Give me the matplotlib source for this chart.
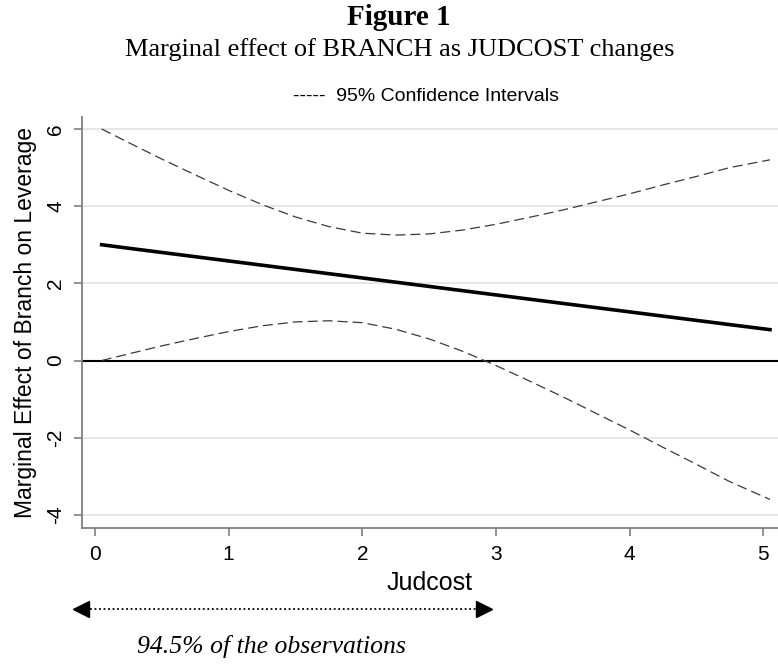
import numpy as np
import matplotlib
matplotlib.use('Agg')
from matplotlib import pyplot as plt
from matplotlib.lines import Line2D

# judcost grid and the estimated marginal effect with its 95% band
judcost = [0.05, 0.25, 0.5, 0.75, 1.0, 1.25, 1.5, 1.75, 2.0, 2.25, 2.5,
           2.75, 3.0, 3.25, 3.5, 3.75, 4.0, 4.25, 4.5, 4.75, 5.05]
effect = [3.00, 2.91, 2.80, 2.69, 2.58, 2.47, 2.36, 2.25, 2.14, 2.03, 1.92,
          1.81, 1.70, 1.59, 1.48, 1.37, 1.26, 1.15, 1.04, 0.93, 0.80]
upper = [6.00, 5.65, 5.22, 4.81, 4.41, 4.04, 3.72, 3.47, 3.30, 3.25, 3.28,
         3.38, 3.53, 3.71, 3.90, 4.11, 4.32, 4.55, 4.77, 5.00, 5.20]
lower = [0.00, 0.17, 0.38, 0.57, 0.75, 0.90, 1.00, 1.03, 0.98, 0.81, 0.56,
         0.24, -0.13, -0.53, -0.94, -1.37, -1.80, -2.25, -2.69, -3.14, -3.60]

xticks = [0, 1, 2, 3, 4, 5]
yticks = [-4, -2, 0, 2, 4, 6]

sans = ['Liberation Sans', 'DejaVu Sans']
serif = ['Liberation Serif', 'DejaVu Serif']

fig = plt.figure(figsize=(7.78, 6.64), dpi=100)
ax = fig.add_axes([0.1054, 0.2048, 0.8946, 0.619])

ax.set_xlim(-0.097, 5.11)
ax.set_ylim(-4.34, 6.31)

for t in yticks:
    ax.axhline(t, color='#e4e4e4', lw=1.3, zorder=0)
ax.axhline(0, color='black', lw=1.5, zorder=2)

ax.plot(judcost, upper, color='#3a3a3a', lw=0.9, dashes=(8, 4), zorder=3)
ax.plot(judcost, lower, color='#3a3a3a', lw=0.9, dashes=(8, 4), zorder=3)
ax.plot(judcost, effect, color='black', lw=2.6, zorder=4)

for s in ['top', 'right']:
    ax.spines[s].set_visible(False)
for s in ['left', 'bottom']:
    ax.spines[s].set_color('#7f7f7f')
    ax.spines[s].set_linewidth(1.3)

ax.set_xticks(xticks)
ax.set_yticks(yticks)
ax.tick_params(axis='both', length=6, width=1.2, color='#7f7f7f', labelsize=15, pad=6)
ax.set_yticklabels([str(t) for t in yticks], rotation=90, va='center', family=sans)
ax.set_xticklabels([str(t) for t in xticks], family=sans)

ax.set_ylabel('Marginal Effect of Branch on Leverage', fontsize=16.5, family=sans, labelpad=7)
ax.set_xlabel('Judcost', fontsize=18, family=sans, labelpad=5)

fig.text(0.513, 0.974, 'Figure 1', ha='center', va='center', fontsize=21,
         fontweight='bold', family=serif)
fig.text(0.514, 0.925, 'Marginal effect of BRANCH as JUDCOST changes', ha='center',
         va='center', fontsize=19, family=serif)
fig.text(0.548, 0.854, '-----  95% Confidence Intervals', ha='center', va='center',
         fontsize=14, family=sans)

# range covered by most of the observations
ay = 1 - 609 / 664
fig.add_artist(Line2D([0.104, 0.622], [ay, ay], transform=fig.transFigure,
                      color='black', lw=1.3, ls=(0, (1, 1.5))))
fig.add_artist(Line2D([0.104], [ay], transform=fig.transFigure, marker='<',
                      markersize=12, color='black', ls='none'))
fig.add_artist(Line2D([0.622], [ay], transform=fig.transFigure, marker='>',
                      markersize=12, color='black', ls='none'))
fig.text(0.349, 1 - 647 / 664, '94.5% of the observations', ha='center', va='center',
         fontsize=18.5, style='italic', family=serif)

fig.savefig('out.png', dpi=100)
